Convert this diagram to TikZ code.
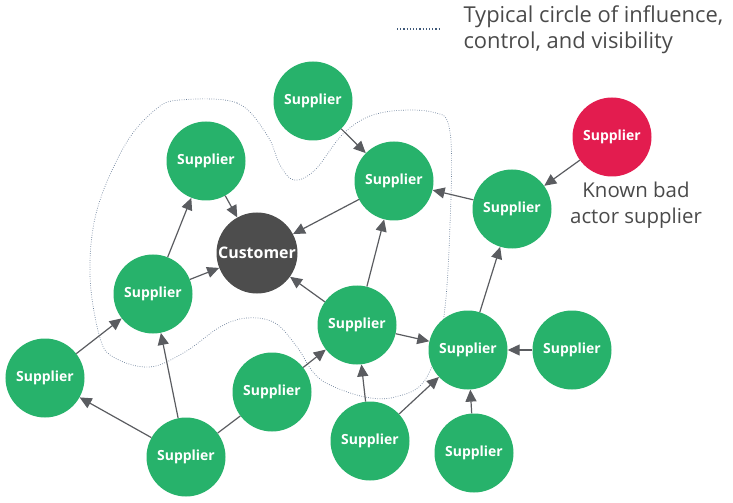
\documentclass[tikz,border=0pt]{standalone}
\usepackage{fontspec}
\setmainfont{Open Sans}
\usetikzlibrary{arrows.meta}
\definecolor{sgreen}{HTML}{27B26B}
\definecolor{sred}{HTML}{E31C4F}
\definecolor{cust}{HTML}{4D4D4D}
\definecolor{edgec}{HTML}{5A5C60}
\definecolor{dotc}{HTML}{6A7F99}
\definecolor{legc}{HTML}{3E5878}
\definecolor{txt}{HTML}{4A4A4A}
\begin{document}
\begin{tikzpicture}[x=1bp,y=-1bp,
  sup/.style={circle,fill=sgreen,minimum size=79bp,inner sep=0pt,text=white,font=\bfseries\fontsize{14}{16}\selectfont},
  bad/.style={sup,fill=sred},
  custnode/.style={sup,fill=cust,minimum size=81bp,font=\bfseries\fontsize{16}{18}\selectfont},
  arr/.style={draw=edgec,line width=1.2bp,-{Triangle[length=12bp,width=11bp]}},
  plain/.style={draw=edgec,line width=1.2bp},
  lbl/.style={text=txt,font=\fontsize{20.5}{26}\selectfont,align=left},
  leglbl/.style={text=txt,font=\fontsize{22}{26}\selectfont,align=left},
  infl/.style={draw=dotc,line width=0.7bp,dash pattern=on 0.7bp off 1.6bp}
]
\useasboundingbox (0,0) rectangle (733,503);
% influence boundary
\draw[infl] plot[smooth cycle,tension=0.6] coordinates {
 (180,100) (237,103) (267,135) (280,165) (294,180) (315,170) (345,132) (380,113)
 (432,112) (450,132) (450,225) (443,323) (425,380) (395,397) (365,397) (330,385)
 (313,372) (297,347) (275,323) (247,318) (220,327) (185,352) (150,367) (115,358)
 (100,338) (90,275) (97,210) (125,145) (155,110)};
% nodes
\node[custnode] (c) at (257,253) {Customer};
\node[sup] (top) at (313,101) {Supplier};
\node[sup] (lu) at (206,161) {Supplier};
\node[sup] (ru) at (394,181) {Supplier};
\node[sup] (lm) at (153,294) {Supplier};
\node[sup] (cl) at (357,325) {Supplier};
\node[sup] (bm) at (272,392) {Supplier};
\node[sup] (fl) at (45,378) {Supplier};
\node[sup] (bot) at (186,457) {Supplier};
\node[sup] (b2) at (370,441) {Supplier};
\node[sup] (rm) at (468,350) {Supplier};
\node[sup] (rr) at (572,350) {Supplier};
\node[sup] (b3) at (474,453) {Supplier};
\node[sup] (r2) at (512,209) {Supplier};
\node[bad] (red) at (612,137) {Supplier};
\node[lbl,align=center] (badl) at (636,205) {Known bad\\actor supplier};
% legend
\coordinate (l1) at (397,29);
\coordinate (l2) at (440,29);
\draw[draw=legc,line width=1.2bp,dash pattern=on 1.2bp off 2bp] (l1) -- (l2);
\node[leglbl,anchor=west] (leg) at (460,30) {Typical circle of influence,\\control, and visibility};
% edges
\draw[arr] (top) -- (ru);
\draw[arr] (lu) -- (c);
\draw[arr] (ru) -- (c);
\draw[arr] (lm) -- (lu);
\draw[arr] (lm) -- (c);
\draw[arr] (cl) -- (c);
\draw[arr] (cl) -- (ru);
\draw[arr] (cl) -- (rm);
\draw[arr] (fl) -- (lm);
\draw[arr] (bot) -- (lm);
\draw[arr] (bot) -- (fl);
\draw[plain] (bot) -- (bm);
\draw[arr] (bm) -- (cl);
\draw[arr] (b2) -- (cl);
\draw[arr] (b2) -- (rm);
\draw[arr] (b3) -- (rm);
\draw[arr] (rr) -- (rm);
\draw[arr] (rm) -- (r2);
\draw[arr] (r2) -- (ru);
\draw[arr] (red) -- (r2);
\end{tikzpicture}
\end{document}
